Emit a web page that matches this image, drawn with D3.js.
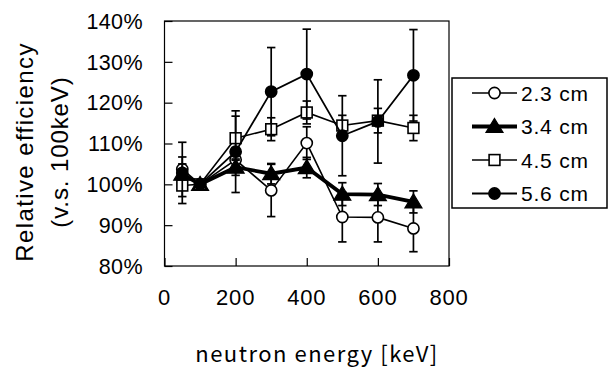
<!DOCTYPE html>
<html>
<head>
<meta charset="utf-8">
<script src="https://cdn.jsdelivr.net/npm/d3@7/dist/d3.min.js"></script>
<style>
  body { margin: 0; background: #fff; }
  svg { display: block; }
  text { font-family: "Liberation Sans", Arial, sans-serif; fill: #000; }
</style>
</head>
<body>
<div id="chart"></div>
<script>
// neutron energy [keV]
var energies = [50, 100, 200, 300, 400, 500, 600, 700];

// relative efficiency (%) and error (%) per thickness
var eff23 = [103.7, 100, 106, 98.5, 110.1, 92.0, 91.9, 89.2];
var err23 = [3, 0, 3, 6.4, 4, 6.1, 6.0, 5.7];
var eff34 = [102.5, 100, 104.2, 102.6, 104.1, 97.6, 97.5, 95.7];
var err34 = [2.5, 0, 2, 2.5, 2.5, 2.8, 2.7, 2.7];
var eff45 = [99.7, 100, 111.3, 113.5, 117.6, 114.4, 115.6, 113.8];
var err45 = [2.7, 0, 5.4, 2.8, 2.8, 2.5, 3, 3.1];
var eff56 = [102.8, 100, 108, 122.7, 127, 111.9, 115.4, 126.7];
var err56 = [7.5, 0, 10, 10.8, 11, 9.8, 10.2, 11.2];

var seriesNames = ["2.3 cm", "3.4 cm", "4.5 cm", "5.6 cm"];
var xTicks = [0, 200, 400, 600, 800];
var yTicks = [80, 90, 100, 110, 120, 130, 140];

var series = [
  {name: seriesNames[0], vals: eff23, errs: err23, marker: "circle", fill: "#fff", lw: 1.6},
  {name: seriesNames[1], vals: eff34, errs: err34, marker: "triangle", fill: "#000", lw: 3.8},
  {name: seriesNames[2], vals: eff45, errs: err45, marker: "square", fill: "#fff", lw: 1.6},
  {name: seriesNames[3], vals: eff56, errs: err56, marker: "circle", fill: "#000", lw: 1.8}
];

var width = 610, height = 369;
var plot = {left: 164.5, right: 449, top: 21, bottom: 266};

var svg = d3.select("#chart").append("svg")
    .attr("width", width)
    .attr("height", height);

var x = d3.scaleLinear().domain([0, 800]).range([plot.left, plot.right]);
var y = d3.scaleLinear().domain([80, 140]).range([plot.bottom, plot.top]);

//Frame
svg.append("rect")
    .attr("x", plot.left).attr("y", plot.top)
    .attr("width", plot.right - plot.left)
    .attr("height", plot.bottom - plot.top)
    .attr("fill", "none").attr("stroke", "#000").attr("stroke-width", 1.2);

//Axes with inward ticks
var xAxis = svg.append("g")
    .attr("transform", "translate(0," + plot.bottom + ")")
    .call(d3.axisTop(x).tickValues(xTicks).tickSize(8).tickFormat(""));
var yAxis = svg.append("g")
    .attr("transform", "translate(" + plot.left + ",0)")
    .call(d3.axisRight(y).tickValues(yTicks).tickSize(8).tickFormat(""));
[xAxis, yAxis].forEach(function (g) {
    g.select(".domain").remove();
    g.selectAll("line").attr("stroke", "#000").attr("stroke-width", 1.2);
});

//Tick labels
svg.append("g").selectAll("text")
    .data(xTicks).enter().append("text")
    .attr("x", function (d) { return x(d); })
    .attr("y", 305)
    .attr("text-anchor", "middle")
    .style("font-size", "22px")
    .style("letter-spacing", "0.8px")
    .text(function (d) { return d; });

svg.append("g").selectAll("text")
    .data(yTicks).enter().append("text")
    .attr("x", 143)
    .attr("y", function (d) { return y(d); })
    .attr("dy", "0.36em")
    .attr("text-anchor", "end")
    .style("font-size", "21.5px")
    .style("letter-spacing", "0.4px")
    .text(function (d) { return d + "%"; });

//Axis titles
svg.append("text")
    .attr("transform", "translate(33,152) rotate(-90)")
    .attr("text-anchor", "middle")
    .style("font-size", "24px")
    .style("letter-spacing", "1.4px")
    .text("Relative efficiency");
svg.append("text")
    .attr("transform", "translate(68,152) rotate(-90)")
    .attr("text-anchor", "middle")
    .style("font-size", "24px")
    .style("letter-spacing", "0.9px")
    .text("(v.s. 100keV)");

svg.append("text")
    .attr("x", 317)
    .attr("y", 362)
    .attr("text-anchor", "middle")
    .style("font-family", "'Noto Sans CJK JP', sans-serif")
    .style("font-size", "22px")
    .style("letter-spacing", "1.5px")
    .text("neutron energy [keV]");

function drawMarker(g, type, fill, cx, cy) {
    if (type === "circle") {
        g.append("circle").attr("cx", cx).attr("cy", cy).attr("r", 5.6)
            .attr("fill", fill).attr("stroke", "#000").attr("stroke-width", 1.6);
    } else if (type === "square") {
        g.append("rect").attr("x", cx - 5.4).attr("y", cy - 5.4)
            .attr("width", 10.8).attr("height", 10.8)
            .attr("fill", fill).attr("stroke", "#000").attr("stroke-width", 1.6);
    } else {
        g.append("path")
            .attr("d", "M" + cx + "," + (cy - 8) + "L" + (cx + 8.5) + "," + (cy + 6) + "L" + (cx - 8.5) + "," + (cy + 6) + "Z")
            .attr("fill", fill).attr("stroke", "#000").attr("stroke-width", 1.2);
    }
}

var line = d3.line()
    .x(function (d) { return x(d.e); })
    .y(function (d) { return y(d.v); });

var capW = 4.2;
var dataGroup = svg.append("g");

series.forEach(function (s) {
    var pts = energies.map(function (e, i) { return {e: e, v: s.vals[i], err: s.errs[i]}; });
    var g = dataGroup.append("g");

    //Error bars
    pts.filter(function (p) { return p.err > 0; }).forEach(function (p) {
        var px = x(p.e), y1 = y(p.v + p.err), y2 = y(p.v - p.err);
        g.append("line").attr("x1", px).attr("x2", px).attr("y1", y1).attr("y2", y2)
            .attr("stroke", "#000").attr("stroke-width", 1.7);
        [y1, y2].forEach(function (yy) {
            g.append("line").attr("x1", px - capW).attr("x2", px + capW).attr("y1", yy).attr("y2", yy)
                .attr("stroke", "#000").attr("stroke-width", 1.7);
        });
    });

    g.append("path").datum(pts)
        .attr("d", line)
        .attr("fill", "none")
        .attr("stroke", "#000")
        .attr("stroke-width", s.lw);

    pts.forEach(function (p) { drawMarker(g, s.marker, s.fill, x(p.e), y(p.v)); });
});

//Legend
var legend = svg.append("g");
legend.append("rect")
    .attr("x", 452).attr("y", 78).attr("width", 155).attr("height", 130)
    .attr("fill", "#fff").attr("stroke", "#000").attr("stroke-width", 1.5);

series.forEach(function (s, i) {
    var ly = 93 + i * 33.5;
    legend.append("line")
        .attr("x1", 472).attr("x2", 517).attr("y1", ly).attr("y2", ly)
        .attr("stroke", "#000").attr("stroke-width", s.lw);
    drawMarker(legend, s.marker, s.fill, 494.5, ly);
    legend.append("text")
        .attr("x", 521).attr("y", ly).attr("dy", "0.36em")
        .style("font-size", "21px")
        .style("letter-spacing", "0.8px")
        .text(s.name);
});
</script>
</body>
</html>
